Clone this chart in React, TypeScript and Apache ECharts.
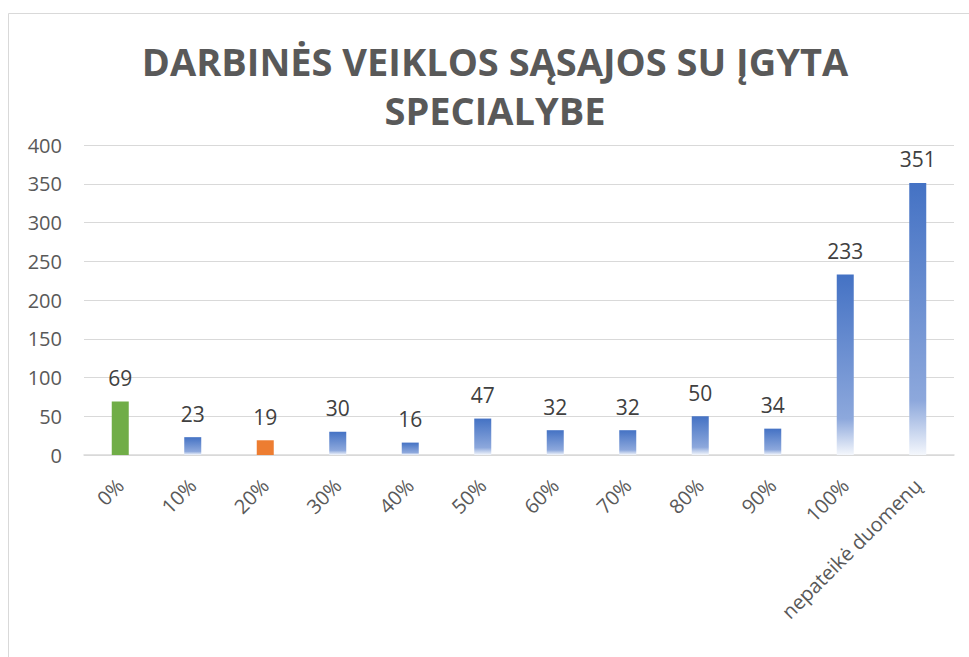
import React, { useEffect, useRef } from "react";
import * as echarts from "echarts";

const categories = ["0%", "10%", "20%", "30%", "40%", "50%", "60%", "70%", "80%", "90%", "100%", "nepateikė duomenų"];
const values = [69, 23, 19, 30, 16, 47, 32, 32, 50, 34, 233, 351];
const barKinds = ["green", "blue", "orange", "blue", "blue", "blue", "blue", "blue", "blue", "blue", "blue", "blue"];
const yTicks = { min: 0, max: 400, interval: 50 };
const titleLines = ["DARBINĖS VEIKLOS SĄSAJOS SU ĮGYTA", "SPECIALYBE"];

const FONT = "'Open Sans', 'Noto Sans', sans-serif";

function colorFor(kind: string) {
  if (kind === "green") return "#70AD47";
  if (kind === "orange") return "#ED7D31";
  return new echarts.graphic.LinearGradient(0, 0, 0, 1, [
    { offset: 0, color: "#4472C4" },
    { offset: 0.8, color: "#8DA8DC" },
    { offset: 1, color: "#F4F7FC" },
  ]);
}

export default function App() {
  const ref = useRef<HTMLDivElement>(null);
  useEffect(() => {
    if (!ref.current) return;
    const chart = echarts.init(ref.current, undefined, { renderer: "svg" });
    chart.setOption({
      animation: false,
      backgroundColor: "#ffffff",
      graphic: [
        {
          type: "rect",
          shape: { x: 8.5, y: 13.5, width: 1200, height: 1200 },
          style: { fill: "none", stroke: "#d9d9d9", lineWidth: 1 },
          silent: true,
        },
        {
          type: "text",
          x: 495,
          y: 61,
          style: {
            text: titleLines[0],
            font: `bold 38px ${FONT}`,
            fill: "#595959",
            align: "center",
            verticalAlign: "middle",
          },
        },
        {
          type: "text",
          x: 495,
          y: 110,
          style: {
            text: titleLines[1],
            font: `bold 38px ${FONT}`,
            fill: "#595959",
            align: "center",
            verticalAlign: "middle",
          },
        },
      ],
      grid: { left: 84, right: 15, top: 145, bottom: 202, containLabel: false },
      xAxis: {
        type: "category",
        data: categories,
        axisLine: { lineStyle: { color: "#d9d9d9", width: 1.5 } },
        axisTick: { show: false },
        axisLabel: {
          rotate: 45,
          color: "#595959",
          fontSize: 20,
          fontFamily: FONT,
          margin: 27,
          interval: 0,
        },
      },
      yAxis: {
        type: "value",
        min: yTicks.min,
        max: yTicks.max,
        interval: yTicks.interval,
        axisLine: { show: false },
        axisTick: { show: false },
        splitLine: { lineStyle: { color: "#d9d9d9", width: 1 } },
        axisLabel: { color: "#595959", fontSize: 20, fontFamily: FONT, margin: 22 },
      },
      series: [
        {
          type: "bar",
          barWidth: 17,
          data: values.map((v, i) => ({ value: v, itemStyle: { color: colorFor(barKinds[i]) } })),
          label: {
            show: true,
            position: "top",
            distance: 13,
            color: "#404040",
            fontSize: 21,
            fontFamily: FONT,
          },
        },
      ],
    });
    return () => chart.dispose();
  }, []);
  return (
    <div
      ref={ref}
      style={{ position: "fixed", left: 0, top: 0, width: 969, height: 657 }}
    />
  );
}
